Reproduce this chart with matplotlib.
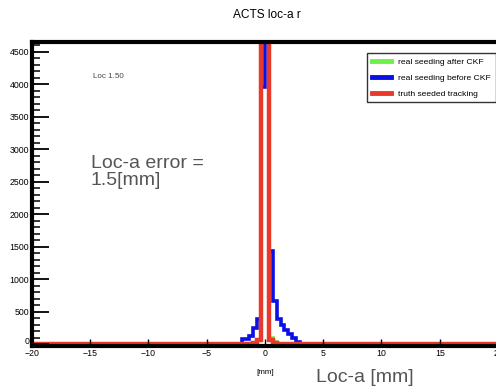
import numpy as np
import matplotlib
matplotlib.use("Agg")
import matplotlib.pyplot as plt
from matplotlib.ticker import MultipleLocator

# ---- data ----
x_min, x_max, n_bins = -20, 20, 120
first_bin = 54  # bin index of first listed value (edge -2.0)
green_vals = [0, 0, 0, 0, 70, 9000, 9000, 90, 30, 0, 0, 0, 0, 0, 0]
blue_vals = [75, 75, 125, 255, 380, 3950, 5200, 1430, 660, 380, 290, 210, 150, 90, 40]
red_vals = [0, 0, 0, 20, 60, 9000, 9000, 60, 15, 0, 0, 0, 0, 0, 0]
labels = ["real seeding after CKF", "real seeding before CKF", "truth seeded tracking"]
colors = ["#6ef04a", "#0a10e6", "#e8392a"]
y_max = 4650
x_ticks = [-20, -15, -10, -5, 0, 5, 10, 15, 20]
y_ticks = [0, 500, 1000, 1500, 2000, 2500, 3000, 3500, 4000, 4500]

edges = np.linspace(x_min, x_max, n_bins + 1)

def full(vals):
    arr = np.zeros(n_bins)
    arr[first_bin:first_bin + len(vals)] = vals
    return arr

fig = plt.figure(figsize=(4.96, 3.92), dpi=100)
ax = fig.add_axes([0.0645, 0.118, 0.9395, 0.775])

lws = [2.6, 2.6, 3.2]
for vals, c, lab, lw in zip([green_vals, blue_vals, red_vals], colors, labels, lws):
    ax.stairs(full(vals), edges, color=c, lw=lw, label=lab, baseline=None)

ax.set_xlim(x_min, x_max)
ax.set_ylim(-25, y_max)
ax.set_xticks(x_ticks)
ax.set_yticks(y_ticks)
ax.yaxis.set_minor_locator(MultipleLocator(100))
ax.tick_params(axis="y", which="major", direction="in", length=12, width=1.3,
               labelsize=6.3, pad=2)
ax.tick_params(axis="y", which="minor", direction="in", length=6, width=1.1)
ax.tick_params(axis="x", which="major", direction="in", length=5, width=1.0,
               labelsize=6.3, pad=2.2)
for t in ax.get_xticklabels() + ax.get_yticklabels():
    t.set_fontfamily("Liberation Sans")
ax.get_yticklabels()[0].set_va("baseline")
for s in ["top", "left", "bottom", "right"]:
    ax.spines[s].set_linewidth(3.0)

fig.text(0.538, 0.962, "ACTS loc-a r", ha="center", va="center", fontsize=8.6,
         family="Liberation Sans")

leg = ax.legend(loc="upper left", bbox_to_anchor=(363 / 496, 1 - 49 / 392),
                bbox_transform=fig.transFigure, frameon=True,
                fancybox=False, edgecolor="black", handlelength=2.3,
                handletextpad=0.8, borderpad=0.55, labelspacing=0.95,
                prop={"family": "Liberation Sans", "size": 6.1})
leg.get_frame().set_linewidth(1.0)
for h in leg.get_lines():
    h.set_linewidth(3.5)

fig.text(93 / 496, 1 - 77 / 392, "Loc 1.50", fontsize=5.8, color="#444444",
         va="center", family="Liberation Sans")
fig.text(91 / 496, 1 - 172 / 392, "Loc-a error =\n1.5[mm]", fontsize=14,
         color="#555555", va="center", linespacing=1.0, family="Liberation Sans")
fig.text(265 / 496, 1 - 372 / 392, "[mm]", fontsize=5.8, ha="center", va="center",
         family="Liberation Sans")
fig.text(316 / 496, 1 - 378 / 392, "Loc-a [mm]", fontsize=14, color="#555555",
         va="center", family="Liberation Sans")

fig.savefig("out.png", dpi=100)
